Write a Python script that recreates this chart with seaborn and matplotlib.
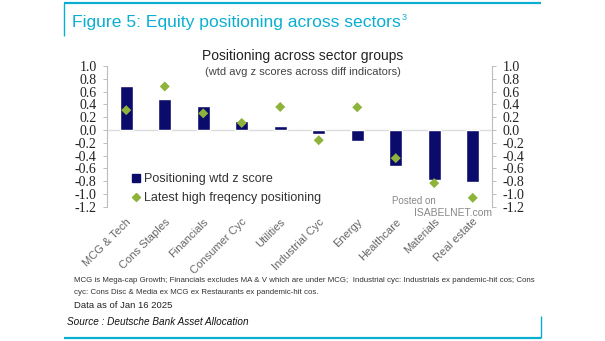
import matplotlib
matplotlib.use("Agg")
import matplotlib.pyplot as plt
import seaborn as sns
import pandas as pd
from matplotlib.lines import Line2D

categories = ["MCG & Tech", "Cons Staples", "Financials", "Consumer Cyc", "Utilities",
              "Industrial Cyc", "Energy", "Healthcare", "Materials", "Real estate"]
positioning = [0.68, 0.49, 0.375, 0.135, 0.06, -0.06, -0.17, -0.57, -0.78, -0.81]
latest_hf = [0.31, 0.68, 0.26, 0.11, 0.36, -0.16, 0.355, -0.44, -0.83, -1.06]
yticks = [1.0, 0.8, 0.6, 0.4, 0.2, 0.0, -0.2, -0.4, -0.6, -0.8, -1.0, -1.2]

df = pd.DataFrame({"sector": categories, "pos": positioning, "hf": latest_hf})

sns.set_theme(style="white")
plt.rcParams["font.family"] = ["Liberation Sans", "DejaVu Sans"]

NAVY = "#0b0b6b"
GREEN = "#8db33a"
CYAN = "#0aaed3"

fig = plt.figure(figsize=(6.05, 3.41), dpi=100)
ax = fig.add_axes([107/605, 1-206.8/341, (492-107)/605, (206.8-66)/341])

ax.axhline(0, color="#dcdcdc", lw=1.0, zorder=0)
sns.barplot(data=df, x="sector", y="pos", color=NAVY, width=0.35, ax=ax,
            saturation=1, zorder=2)
sns.scatterplot(data=df, x="sector", y="hf", marker="D", color=GREEN, s=26,
                edgecolor="none", ax=ax, zorder=3)

ax.set_xlim(-0.5, 9.5)
ax.set_ylim(-1.2, 1.0)
ax.set_yticks(yticks)
ax.set_yticklabels([f"{v:.1f}" for v in yticks])
ax.set_xlabel("")
ax.set_ylabel("")
for s in ["top", "bottom"]:
    ax.spines[s].set_visible(False)
for s in ["left", "right"]:
    ax.spines[s].set_visible(True)
    ax.spines[s].set_color("#bdbdbd")
    ax.spines[s].set_linewidth(0.8)
ax.yaxis.set_ticks_position("both")
ax.tick_params(axis="y", which="both", left=True, right=True, labelleft=True,
               labelright=True, length=3, width=0.7, color="#bdbdbd",
               labelsize=10, pad=4.5, labelcolor="#222222",
               labelfontfamily="Liberation Serif")
ax.tick_params(axis="x", length=0, pad=7)
ax.set_xticks(range(len(categories)))
ax.set_xticklabels(categories, rotation=45, ha="right", rotation_mode="anchor",
                   fontsize=8, color="#666666")
ax.grid(False)

handles = [Line2D([], [], marker="s", color=NAVY, ls="none", ms=6),
           Line2D([], [], marker="D", color=GREEN, ls="none", ms=4.5)]
leg = ax.legend(handles, ["Positioning wtd z score", "Latest high freqency positioning"],
                loc="upper left", bbox_to_anchor=(130/605, 1-173/341),
                bbox_transform=fig.transFigure, frameon=False, fontsize=9,
                handletextpad=0.1, handlelength=1.0, labelspacing=0.55,
                borderaxespad=0, borderpad=0)
for t in leg.get_texts():
    t.set_color("#333333")

# titles
fig.text(72/605, 1-23/341, "Figure 5: Equity positioning across sectors",
         fontsize=12.6, color=CYAN, ha="left", va="center")
fig.text(401.5/605, 1-17/341, "3", fontsize=6.5, color=CYAN, ha="left", va="center")
fig.text(303/605, 1-56/341, "Positioning across sector groups", fontsize=10,
         color="#222222", ha="center", va="center")
fig.text(303/605, 1-72/341, "(wtd avg z scores across diff indicators)", fontsize=8,
         color="#444444", ha="center", va="center")

# watermark
fig.text(392/605, 1-201/341, "Posted on", fontsize=7, color="#888888", ha="left", va="center")
fig.text(414/605, 1-213/341, "ISABELNET.com", fontsize=7.5, color="#888888", ha="left", va="center")

# footnotes
fig.text(74/605, 1-281/341,
         "MCG is Mega-cap Growth; Financials excludes MA & V which are under MCG;  Industrial cyc: Industrials ex pandemic-hit cos; Cons",
         fontsize=5.7, color="#333333", ha="left", va="center")
fig.text(74/605, 1-293/341, "cyc: Cons Disc & Media ex MCG ex Restaurants ex pandemic-hit cos.",
         fontsize=5.7, color="#333333", ha="left", va="center")
fig.text(74/605, 1-305/341, "Data as of Jan 16 2025", fontsize=6.8, color="#222222",
         ha="left", va="center")
fig.text(67/605, 1-322/341, "Source : Deutsche Bank Asset Allocation", fontsize=7.2,
         color="#111111", ha="left", va="center", style="italic")

# frame lines
def fline(xs, ys, lw=1.6):
    fig.add_artist(Line2D([x/605 for x in xs], [1-y/341 for y in ys],
                          transform=fig.transFigure, color=CYAN, lw=lw,
                          solid_capstyle="butt"))
fline([64, 541], [3, 3])
fline([64, 64], [3, 36], lw=1.0)
fline([64, 541], [338, 338])
fline([540.5, 540.5], [316, 338], lw=1.0)

fig.savefig("out.png", dpi=100)
